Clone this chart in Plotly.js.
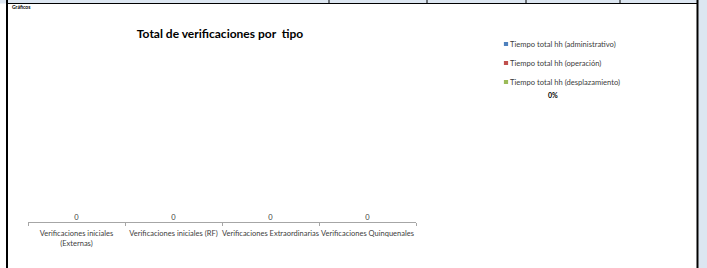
<!DOCTYPE html>
<html><head><meta charset="utf-8">
<script src="https://cdn.plot.ly/plotly-3.0.1.min.js"></script>
<style>html,body{margin:0;padding:0;background:#fff;}#chart{width:707px;height:268px;}</style>
</head><body><div id="chart"></div>
<script>
const categories = ["Verificaciones iniciales<br>(Externas)", "Verificaciones iniciales (RF)", "Verificaciones Extraordinarias", "Verificaciones Quinquenales"];
const seriesNames = ["Tiempo total hh (administrativo)", "Tiempo total hh (operación)", "Tiempo total hh (desplazamiento)"];
const adminValues = [0, 0, 0, 0];
const operValues = [0, 0, 0, 0];
const despValues = [0, 0, 0, 0];
const seriesColors = ["#4f81bd", "#c0504d", "#9bbb59"];
const pieLabel = "0%";

const W = 707, H = 268;
const px = v => v / W, py = v => 1 - v / H;
const totals = categories.map((c, i) => adminValues[i] + operValues[i] + despValues[i]);
const allSeries = [adminValues, operValues, despValues];
const font = "Lato, 'Liberation Sans', sans-serif";

const traces = allSeries.map((vals, k) => ({
  type: 'bar', x: categories, y: vals, name: seriesNames[k],
  marker: {color: seriesColors[k]}, hoverinfo: 'skip'
}));
traces.push({
  type: 'scatter', mode: 'text', x: categories, y: totals, text: totals.map(String),
  textposition: 'top center', textfont: {family: font, size: 7.5, color: '#404040'},
  showlegend: false, hoverinfo: 'skip', cliponaxis: false
});

const line = (x0, y0, x1, y1, w) => ({type: 'line', xref: 'paper', yref: 'paper',
  x0: px(x0), y0: py(y0), x1: px(x1), y1: py(y1), line: {color: '#000', width: w}});
const rect = (x0, y0, x1, y1, c) => ({type: 'rect', xref: 'paper', yref: 'paper', layer: 'below',
  x0: px(x0), y0: py(y0), x1: px(x1), y1: py(y1), fillcolor: c, line: {width: 0}});

const layout = {
  width: W, height: H, margin: {l: 0, r: 0, t: 0, b: 0},
  paper_bgcolor: '#fff', plot_bgcolor: 'rgba(0,0,0,0)',
  barmode: 'stack', showlegend: true,
  font: {family: font, size: 7, color: '#404040'},
  xaxis: {domain: [px(28), px(416)], type: 'category', showline: true, linecolor: '#a6a6a6', linewidth: 1,
    ticks: 'outside', tickson: 'boundaries', ticklen: 3, tickcolor: '#a6a6a6', showgrid: false, tickangle: 0,
    ticklabelstandoff: 4, automargin: false, tickfont: {family: font, size: 7.5, color: '#404040'}, fixedrange: true},
  yaxis: {domain: [py(222), py(60)], range: [0, 1], visible: false, fixedrange: true},
  title: {text: 'Total de verificaciones por  tipo', x: px(220), xanchor: 'center', y: py(34), yanchor: 'middle',
    font: {family: font, size: 12, color: '#000', weight: 'bold'}},
  legend: {x: px(470), y: py(29.5), xanchor: 'left', yanchor: 'top', traceorder: 'normal',
    font: {family: font, size: 7.6, color: '#404040'}, bgcolor: 'rgba(0,0,0,0)', itemwidth: 30},
  annotations: [
    {text: '<b>Gráficos</b>', xref: 'paper', yref: 'paper', x: px(10), y: py(7), xanchor: 'left', yanchor: 'middle',
      showarrow: false, font: {family: font, size: 5, color: '#000'}},
    {text: '<b>' + pieLabel + '</b>', xref: 'paper', yref: 'paper', x: px(553), y: py(95), xanchor: 'center', yanchor: 'middle',
      showarrow: false, font: {family: font, size: 7, color: '#000'}}
  ],
  shapes: [
    rect(0, 0, 707, 3.5, '#dce6f1'),
    rect(698.5, 0, 707, 268, '#dce6f1'),
    line(6, 3.5, 698, 3.5, 1),
    line(7, 0, 7, 268, 2),
    line(697.5, 0, 697.5, 268, 2),
    line(329, 0, 329, 3.5, 1),
    line(427, 0, 427, 3.5, 1),
    line(526, 0, 526, 3.5, 1),
    line(620, 0, 620, 3.5, 1)
  ]
};

Plotly.newPlot('chart', traces, layout, {staticPlot: true, displayModeBar: false}).then(() => {
  document.querySelectorAll('.legendpoints path').forEach(p => {
    p.setAttribute('transform', 'translate(36,0) scale(0.35)');
  });
});
</script></body></html>
